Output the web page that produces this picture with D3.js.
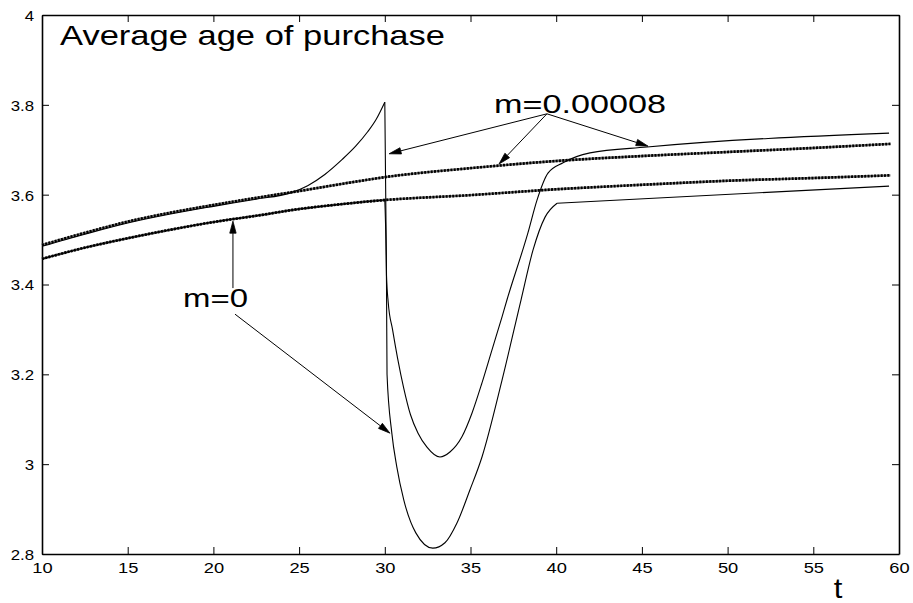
<!DOCTYPE html>
<html>
<head>
<meta charset="utf-8">
<script src="https://cdn.jsdelivr.net/npm/d3@7"></script>
<style>
  body { margin: 0; background: #fff; }
  svg text { font-family: "Liberation Sans", Arial, Helvetica, sans-serif; fill: #000; }
</style>
</head>
<body>
<svg id="chart" width="913" height="603"></svg>
<script>
// ---- data ----
var xTicks = [10, 15, 20, 25, 30, 35, 40, 45, 50, 55, 60];
var yTicks = [2.8, 3, 3.2, 3.4, 3.6, 3.8, 4];

// dotted: m=0.00008, no shock
var tUpperDot = [10, 12.5, 15, 17.5, 20, 22.5, 25, 27.5, 30, 35, 40, 45, 50, 55, 59.5];
var vUpperDot = [3.488, 3.515, 3.540, 3.560, 3.577, 3.593, 3.608, 3.624, 3.639, 3.659, 3.675, 3.686, 3.695, 3.704, 3.713];

// dotted: m=0, no shock
var tLowerDot = [10, 12.5, 15, 17.5, 20, 22.5, 25, 27.5, 30, 35, 40, 45, 50, 55, 59.5];
var vLowerDot = [3.457, 3.482, 3.503, 3.522, 3.539, 3.553, 3.568, 3.579, 3.588, 3.599, 3.612, 3.622, 3.631, 3.637, 3.643];

// solid: m=0.00008 with shock at t=30
var tShockM = [10, 12.5, 15, 17.5, 20, 22.5, 24.5, 25.5, 26.5, 27.5, 28.3, 29, 29.5, 30,
    30.1, 30.2, 30.45, 30.75, 31.1, 31.5, 31.94, 32.46, 33.22, 33.8, 34.5, 35.09, 35.67, 36.25, 36.84, 37.13,
    38.35, 38.88, 39.52, 40.4, 41.97, 45.3, 59.42];
var vShockM = [3.485, 3.512, 3.537, 3.557, 3.574, 3.590, 3.604, 3.620, 3.645, 3.678, 3.708, 3.740, 3.768, 3.806,
    3.42, 3.36, 3.30, 3.235, 3.17, 3.11, 3.069, 3.038, 3.016, 3.027, 3.061, 3.114, 3.181, 3.254, 3.328, 3.366,
    3.515, 3.588, 3.648, 3.671, 3.693, 3.706, 3.737];
var shockMCorners = [30];

// solid: m=0 with shock at t=30
var tShock0 = [10, 12.5, 15, 17.5, 20, 22.5, 25, 27.5, 30, 30.1, 30.13, 30.41, 30.70, 31.11, 31.81, 32.8, 33.51, 34.21, 34.97, 35.67, 36.84, 37.95, 38.65, 39.35, 40.05, 59.42];
var vShock0 = [3.457, 3.482, 3.503, 3.522, 3.539, 3.553, 3.568, 3.579, 3.588, 3.40, 3.20, 3.069, 2.994, 2.920, 2.847, 2.813, 2.825, 2.869, 2.943, 3.016, 3.187, 3.366, 3.477, 3.550, 3.581, 3.619];
var shock0Corners = [30, 40.05];

// annotations (data units)
var annoLabels = ["Average age of purchase", "m=0.00008", "m=0"];
var annoLabelT = [11.05, 36.37, 18.23];
var annoLabelV = [3.933, 3.782, 3.350];
var arrowFromT = [39.46, 39.46, 39.46, 21.14, 21.26];
var arrowFromV = [3.780, 3.780, 3.780, 3.392, 3.334];
var arrowToT = [30.25, 36.66, 45.36, 21.14, 30.30];
var arrowToV = [3.691, 3.668, 3.708, 3.541, 3.069];

// ---- layout ----
var svg = d3.select("#chart");
var margin = {left: 42, top: 15, right: 14, bottom: 49};
var W = 913, H = 603;

var x = d3.scaleLinear().domain([10, 60]).range([margin.left, W - margin.right]);
var y = d3.scaleLinear().domain([2.8, 4]).range([H - margin.bottom, margin.top]);

function zip(ts, vs) {
    return ts.map(function (t, i) { return [t, vs[i]]; });
}

// split a series at its corner points so the curve keeps the sharp turns
function segments(ts, vs, corners) {
    var pts = zip(ts, vs), out = [], cur = [];
    pts.forEach(function (p) {
        cur.push(p);
        if (corners.indexOf(p[0]) >= 0) {
            out.push(cur);
            cur = [p];
        }
    });
    if (cur.length > 1) out.push(cur);
    return out;
}

var line = d3.line()
    .x(function (d) { return x(d[0]); })
    .y(function (d) { return y(d[1]); })
    .curve(d3.curveMonotoneX);

// axes, MATLAB-like box with inward ticks
var gx = svg.append("g").attr("transform", "translate(0," + y(2.8) + ")")
    .call(d3.axisBottom(x).tickValues(xTicks).tickSize(-7).tickSizeOuter(0).tickPadding(8).tickFormat(d3.format("d")));
var gxTop = svg.append("g").attr("transform", "translate(0," + y(4) + ")")
    .call(d3.axisTop(x).tickValues(xTicks).tickSize(-7).tickSizeOuter(0).tickFormat(""));
var gy = svg.append("g").attr("transform", "translate(" + x(10) + ",0)")
    .call(d3.axisLeft(y).tickValues(yTicks).tickSize(-7).tickSizeOuter(0).tickPadding(8).tickFormat(function (d) { return String(+d.toFixed(1)); }));
var gyRight = svg.append("g").attr("transform", "translate(" + x(60) + ",0)")
    .call(d3.axisRight(y).tickValues(yTicks).tickSize(-7).tickSizeOuter(0).tickFormat(""));

svg.selectAll(".domain").attr("stroke", "#000").attr("stroke-width", 1.6);
svg.selectAll(".tick line").attr("stroke", "#000").attr("stroke-width", 1);
svg.selectAll(".tick text").style("font-size", "15px").attr("fill", "#000");
gx.selectAll(".tick text").attr("transform", "scale(1.22,1)").attr("x", 0);
gy.selectAll(".tick text").attr("transform", "scale(1.12,1)").attr("x", -8 / 1.12).attr("dy", "0.36em");

// x label
svg.append("text")
    .attr("x", 838).attr("y", 598)
    .attr("text-anchor", "middle")
    .attr("transform", "translate(838,0) scale(1.15,1) translate(-838,0)")
    .style("font-size", "27px")
    .text("t");

// dotted curves
[zip(tUpperDot, vUpperDot), zip(tLowerDot, vLowerDot)].forEach(function (pts) {
    svg.append("path")
        .attr("d", line(pts))
        .attr("fill", "none")
        .attr("stroke", "#777")
        .attr("stroke-width", 2.4);
    svg.append("path")
        .attr("d", line(pts))
        .attr("fill", "none")
        .attr("stroke", "#000")
        .attr("stroke-width", 2.7)
        .attr("stroke-dasharray", "2,1.3");
});

// solid curves
segments(tShockM, vShockM, shockMCorners)
    .concat(segments(tShock0, vShock0, shock0Corners))
    .forEach(function (pts) {
        svg.append("path")
            .attr("d", line(pts))
            .attr("fill", "none")
            .attr("stroke", "#000")
            .attr("stroke-width", 1.1);
    });

// labels
var labelSize = [28, 25, 25];
var labelLen = [385, 172, 65];
annoLabels.forEach(function (txt, i) {
    svg.append("text")
        .attr("x", x(annoLabelT[i]))
        .attr("y", y(annoLabelV[i]))
        .attr("textLength", labelLen[i])
        .attr("lengthAdjust", "spacingAndGlyphs")
        .style("font-size", labelSize[i] + "px")
        .text(txt);
});

// arrows
arrowFromT.forEach(function (t0, i) {
    var x0 = x(t0), y0 = y(arrowFromV[i]);
    var x1 = x(arrowToT[i]), y1 = y(arrowToV[i]);
    var ang = Math.atan2(y1 - y0, x1 - x0);
    var len = 12, half = 3.2;
    var bx = x1 - len * Math.cos(ang), by = y1 - len * Math.sin(ang);
    svg.append("line")
        .attr("x1", x0).attr("y1", y0)
        .attr("x2", bx).attr("y2", by)
        .attr("stroke", "#000").attr("stroke-width", 1);
    var pts = [
        [x1, y1],
        [bx + half * Math.sin(ang), by - half * Math.cos(ang)],
        [bx - half * Math.sin(ang), by + half * Math.cos(ang)]
    ];
    svg.append("polygon")
        .attr("points", pts.map(function (p) { return p.join(","); }).join(" "))
        .attr("fill", "#000")
        .attr("stroke", "#000")
        .attr("stroke-width", 0.8);
});
</script>
</body>
</html>
